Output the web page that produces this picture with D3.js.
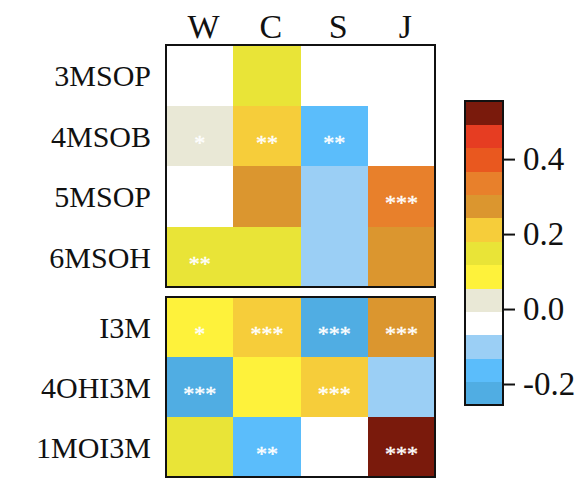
<!DOCTYPE html>
<html lang="en">
<head>
    <meta charset="UTF-8">
    <title>Correlation heatmap</title>
    <script src="https://d3js.org/d3.v7.min.js"></script>
    <style>
        body {
            margin: 0;
            background: #fff;
        }
        text {
            font-family: "Palatino Linotype", "Book Antiqua", Palatino, "Liberation Serif", serif;
            fill: #111;
        }
    </style>
</head>
<body>
    <svg id="chart" width="579" height="479"></svg>

    <script>
        // ---- data ----
        const columns = ["W", "C", "S", "J"];
        const rowsTop = ["3MSOP", "4MSOB", "5MSOP", "6MSOH"];
        const rowsBottom = ["I3M", "4OHI3M", "1MOI3M"];

        // correlation values
        const valuesTop = [
            [-0.03, 0.15, -0.02, -0.01],
            [0.02, 0.21, -0.16, -0.03],
            [-0.02, 0.27, -0.10, 0.34],
            [0.15, 0.16, -0.10, 0.28]
        ];
        const valuesBottom = [
            [0.09, 0.21, -0.22, 0.28],
            [-0.22, 0.09, 0.21, -0.10],
            [0.15, -0.16, -0.03, 0.53]
        ];

        // significance stars
        const sigTop = [
            ["", "", "", ""],
            ["*", "**", "**", ""],
            ["", "", "", "***"],
            ["**", "", "", ""]
        ];
        const sigBottom = [
            ["*", "***", "***", "***"],
            ["***", "", "***", ""],
            ["", "**", "", "***"]
        ];

        // colour bins, lowest to highest
        const binColors = [
            "#50ade3", "#5bbdfb", "#9bcff5", "#ffffff", "#e9e8d6",
            "#fef23b", "#e9e437", "#f6cd3a", "#db962f", "#e8802b",
            "#e9581f", "#e63d22", "#7a1a0c"
        ];
        const colorDomain = [-0.256, 0.555];
        const colorTicks = [-0.2, 0.0, 0.2, 0.4];

        // ---- layout ----
        const svg = d3.select("#chart");
        const gridLeft = 166, gridRight = 435;

        const color = d3.scaleQuantize()
            .domain(colorDomain)
            .range(binColors);

        const x = d3.scaleBand()
            .domain(columns)
            .range([gridLeft, gridRight]);

        function drawPanel(rows, values, sig, top, bottom) {
            const y = d3.scaleBand()
                .domain(rows)
                .range([top, bottom]);

            const g = svg.append("g");

            const cells = [];
            rows.forEach((r, i) => {
                columns.forEach((c, j) => {
                    cells.push({ row: r, col: c, value: values[i][j], sig: sig[i][j] });
                });
            });

            g.selectAll("rect.cell")
                .data(cells)
                .enter()
                .append("rect")
                .attr("class", "cell")
                .attr("x", d => x(d.col))
                .attr("y", d => y(d.row))
                .attr("width", x.bandwidth() + 0.5)
                .attr("height", y.bandwidth() + 0.5)
                .attr("fill", d => color(d.value))
                .attr("shape-rendering", "crispEdges");

            g.selectAll("text.sig")
                .data(cells.filter(d => d.sig))
                .enter()
                .append("text")
                .attr("class", "sig")
                .attr("x", d => x(d.col) + x.bandwidth() / 2)
                .attr("y", d => y(d.row) + y.bandwidth() / 2 + 14)
                .attr("text-anchor", "middle")
                .style("fill", "#fff")
                .style("font-size", "22px")
                .style("stroke", "#fff")
                .style("stroke-width", 0.4)
                .text(d => d.sig);

            // frame
            g.append("rect")
                .attr("x", gridLeft)
                .attr("y", top)
                .attr("width", gridRight - gridLeft)
                .attr("height", bottom - top)
                .attr("fill", "none")
                .attr("stroke", "#111")
                .attr("stroke-width", 2);

            // row labels
            g.selectAll("text.row")
                .data(rows)
                .enter()
                .append("text")
                .attr("class", "row")
                .attr("x", gridLeft - 15)
                .attr("y", d => y(d) + y.bandwidth() / 2 + 11)
                .attr("text-anchor", "end")
                .style("font-size", "30px")
                .text(d => d);
        }

        drawPanel(rowsTop, valuesTop, sigTop, 45, 287);
        drawPanel(rowsBottom, valuesBottom, sigBottom, 297, 477);

        // column labels
        svg.selectAll("text.col")
            .data(columns)
            .enter()
            .append("text")
            .attr("class", "col")
            .attr("x", d => x(d) + x.bandwidth() / 2 + 4)
            .attr("y", 38)
            .attr("text-anchor", "middle")
            .style("font-size", "34px")
            .text(d => d);

        // ---- colour bar ----
        const barLeft = 465, barWidth = 38, barTop = 101, barBottom = 405;

        const barScale = d3.scaleLinear()
            .domain(colorDomain)
            .range([barBottom, barTop]);

        const step = (colorDomain[1] - colorDomain[0]) / binColors.length;
        const bins = binColors.map((c, i) => ({
            lo: colorDomain[0] + i * step,
            hi: colorDomain[0] + (i + 1) * step,
            color: c
        }));

        const bar = svg.append("g");

        bar.selectAll("rect.bin")
            .data(bins)
            .enter()
            .append("rect")
            .attr("class", "bin")
            .attr("x", barLeft)
            .attr("y", d => barScale(d.hi))
            .attr("width", barWidth)
            .attr("height", d => barScale(d.lo) - barScale(d.hi) + 0.5)
            .attr("fill", d => d.color)
            .attr("shape-rendering", "crispEdges");

        bar.append("rect")
            .attr("x", barLeft)
            .attr("y", barTop)
            .attr("width", barWidth)
            .attr("height", barBottom - barTop)
            .attr("fill", "none")
            .attr("stroke", "#111")
            .attr("stroke-width", 2);

        const axis = d3.axisRight(barScale)
            .tickValues(colorTicks)
            .tickFormat(d3.format(".1f"))
            .tickSize(12)
            .tickPadding(8);

        const axisG = bar.append("g")
            .attr("transform", `translate(${barLeft + barWidth},0)`)
            .call(axis);

        axisG.select(".domain").remove();
        axisG.selectAll(".tick line")
            .attr("stroke", "#111")
            .attr("stroke-width", 2);
        axisG.selectAll(".tick text")
            .attr("fill", "#111")
            .style("font-size", "33px")
            .style("font-family", "\"Palatino Linotype\", \"Book Antiqua\", Palatino, \"Liberation Serif\", serif")
            .text(d => d3.format(".1f")(d).replace("−", "-"));
    </script>
</body>
</html>
